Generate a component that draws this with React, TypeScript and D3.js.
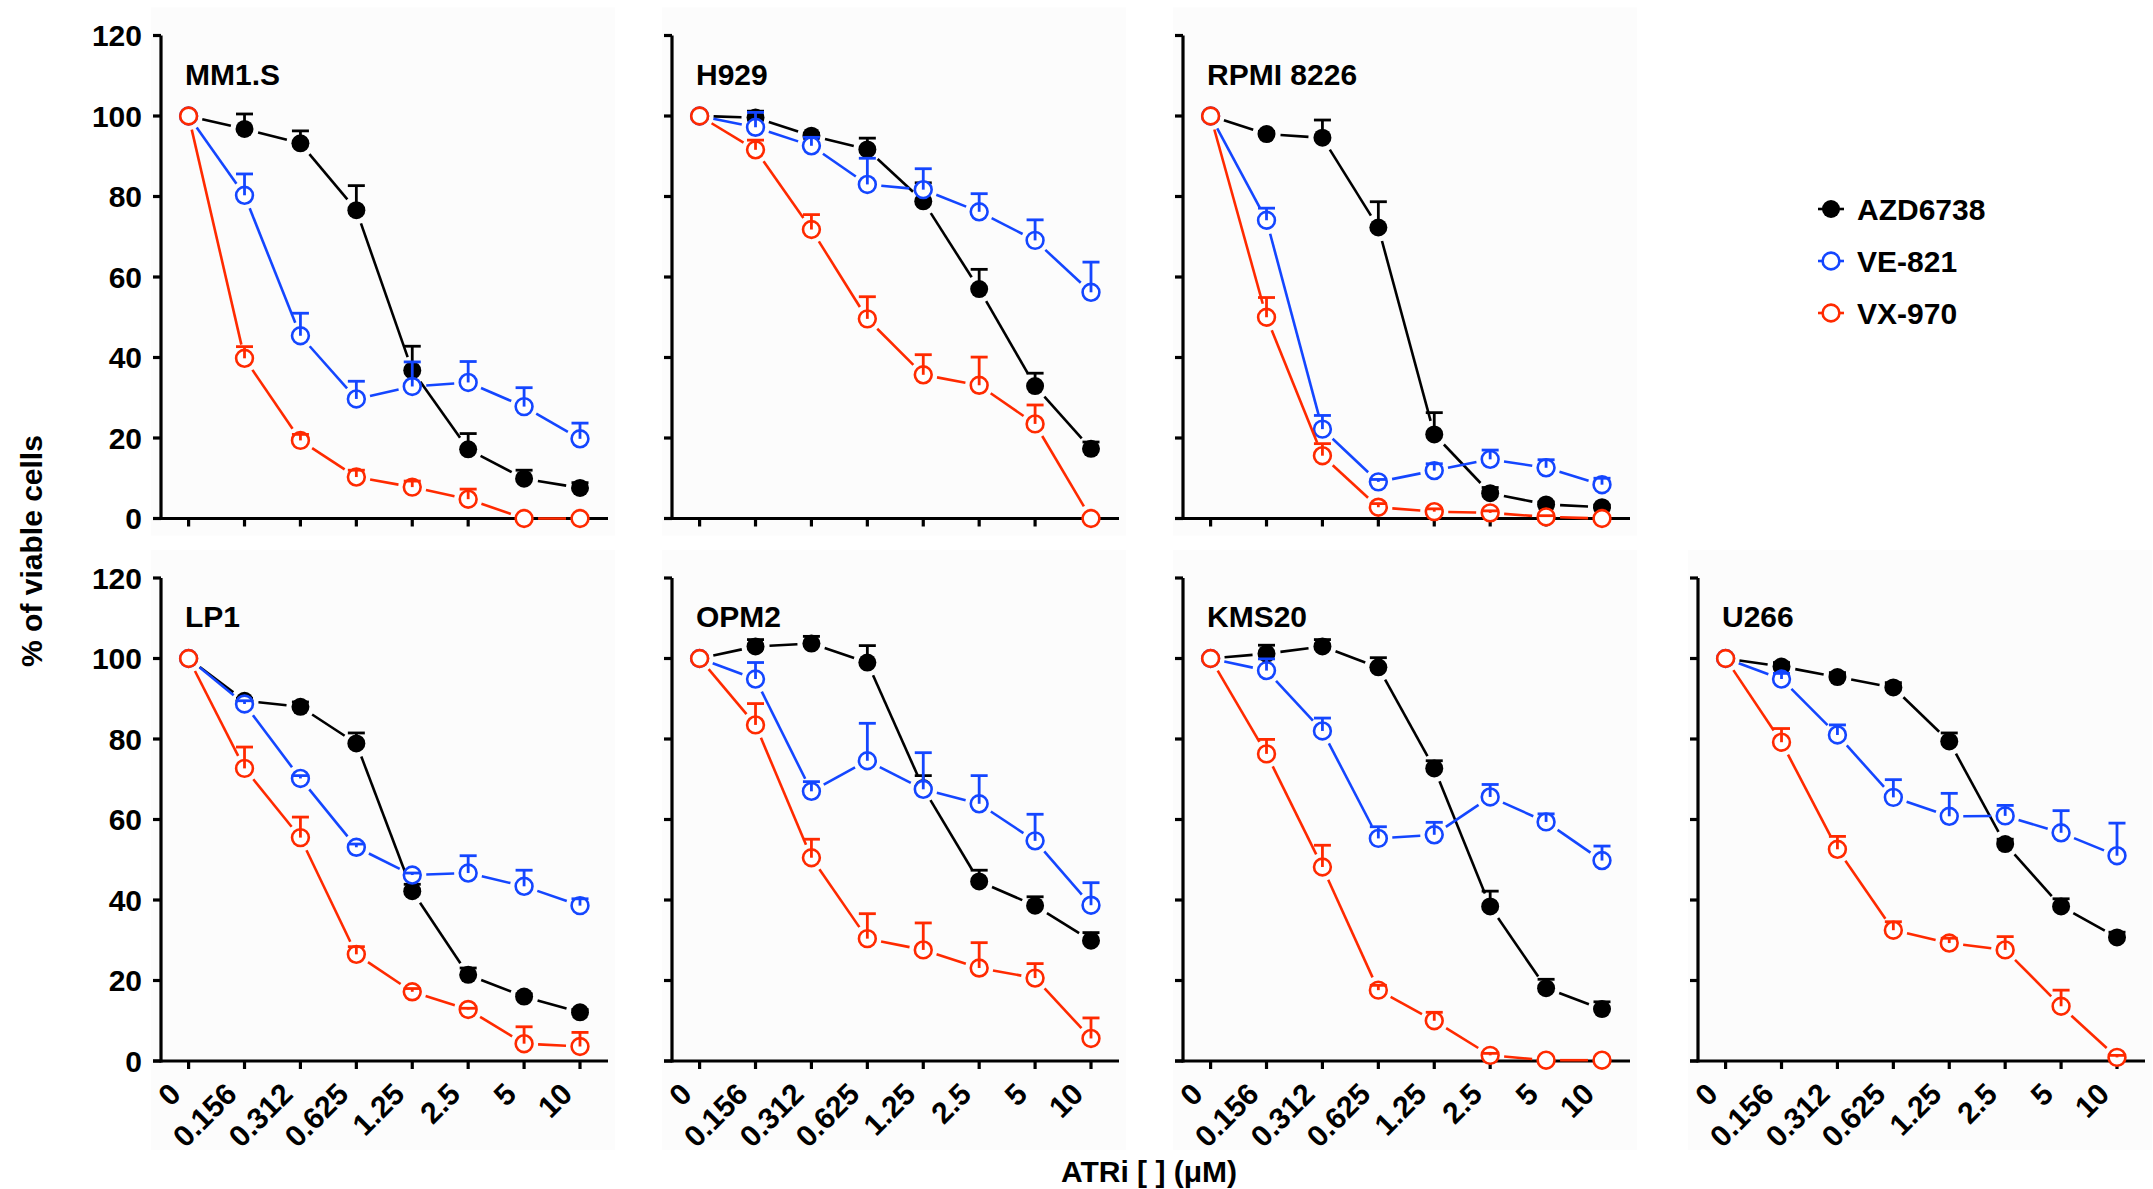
import React from "react";
import * as d3 from "d3";

// doses on the x axis (µM)
const doses = ["0", "0.156", "0.312", "0.625", "1.25", "2.5", "5", "10"];
const cellLines = ["MM1.S", "H929", "RPMI 8226", "LP1", "OPM2", "KMS20", "U266"];
const drugs = ["AZD6738", "VE-821", "VX-970"];
const yTicks = [0, 20, 40, 60, 80, 100, 120];

// mean % viable cells, one row per cell line (same order as cellLines)
const azdMean = [
  [100, 96.8, 93.2, 76.6, 36.8, 17.2, 9.9, 7.6],
  [100, 99.6, 95.1, 91.7, 78.8, 57.0, 32.9, 17.3],
  [100, 95.5, 94.6, 72.3, 20.9, 6.3, 3.5, 2.8],
  [100, 89.5, 88.0, 78.9, 42.2, 21.4, 16.0, 12.1],
  [100, 103.0, 103.7, 99.0, 67.8, 44.6, 38.6, 29.9],
  [100, 101.2, 103.0, 97.8, 72.7, 38.4, 18.1, 12.9],
  [100, 98.0, 95.4, 92.8, 79.4, 53.9, 38.4, 30.7],
];
const azdErr = [
  [0, 3.7, 3.1, 6.1, 6.0, 3.9, 2.1, 1.3],
  [0, 1.6, 0.6, 2.8, 4.6, 4.9, 3.2, 1.7],
  [0, 0.7, 4.4, 6.4, 5.4, 1.4, 0.6, 0.5],
  [0, 0.6, 1.2, 2.6, 1.7, 1.7, 0.7, 0.7],
  [0, 1.7, 1.8, 4.2, 3.1, 2.8, 2.2, 2.0],
  [0, 2.1, 1.7, 2.4, 1.9, 3.8, 2.2, 1.8],
  [0, 1.0, 1.1, 1.2, 2.1, 1.2, 1.9, 1.3],
];
const veMean = [
  [100, 80.3, 45.4, 29.7, 32.8, 33.8, 27.8, 19.8],
  [100, 97.2, 92.6, 83.0, 81.7, 76.2, 69.1, 56.2],
  [100, 74.1, 22.2, 9.1, 11.9, 14.7, 12.6, 8.4],
  [100, 88.7, 70.2, 53.1, 46.2, 46.7, 43.4, 38.6],
  [100, 94.9, 67.0, 74.6, 67.5, 63.9, 54.7, 38.7],
  [100, 97.0, 82.0, 55.3, 56.2, 65.6, 59.4, 49.8],
  [100, 94.9, 81.0, 65.5, 60.8, 60.9, 56.7, 51.0],
];
const veErr = [
  [0, 5.3, 5.6, 4.4, 6.1, 5.2, 4.7, 3.9],
  [0, 3.7, 2.1, 6.5, 5.2, 4.5, 5.1, 7.5],
  [0, 3.0, 3.4, 0.6, 1.7, 2.3, 2.0, 1.6],
  [0, 0.8, 0.7, 0.8, 0.5, 4.3, 4.0, 1.7],
  [0, 4.1, 2.4, 9.3, 9.1, 7.0, 6.6, 5.6],
  [0, 2.9, 3.2, 2.9, 3.1, 3.1, 2.0, 3.6],
  [0, 1.4, 2.5, 4.4, 5.7, 2.6, 5.5, 8.1],
];
const vxMean = [
  [100, 39.8, 19.4, 10.3, 7.8, 4.8, 0, 0],
  [100, 91.6, 71.8, 49.6, 35.7, 33.1, 23.5, 0],
  [100, 50.0, 15.6, 2.8, 1.7, 1.4, 0.4, 0],
  [100, 72.7, 55.5, 26.5, 17.2, 12.8, 4.3, 3.6],
  [100, 83.5, 50.5, 30.4, 27.6, 23.1, 20.6, 5.6],
  [100, 76.3, 48.2, 17.6, 10.0, 1.4, 0.2, 0.2],
  [100, 79.2, 52.6, 32.5, 29.3, 27.6, 13.6, 0.9],
];
const vxErr = [
  [0, 2.9, 1.5, 1.7, 1.5, 2.5, 0, 0],
  [0, 2.4, 3.7, 5.5, 5.0, 7.0, 4.7, 0],
  [0, 4.9, 3.0, 0.9, 0.7, 0.5, 0.3, 0],
  [0, 5.3, 5.1, 1.9, 0.8, 0.3, 4.2, 3.5],
  [0, 5.3, 4.6, 6.2, 6.7, 6.3, 3.6, 5.1],
  [0, 3.6, 5.4, 1.2, 2.1, 0.5, 0, 0],
  [0, 3.4, 3.2, 2.1, 1.2, 3.3, 4.0, 0.5],
];

const W = 2153;
const H = 1189;
const FONT = "'Liberation Sans', Arial, Helvetica, sans-serif";
const colors = ["#000000", "#1446ff", "#ff2a00"];
const axisX = [161, 672, 1183, 1698];
const rowY0 = [518.5, 1061];
const plotH = 483;
const R = 8.4;
const GAP = 14;

function Series({ means, errs, x, y, color, filled }) {
  const pts = doses.map((d, i) => [x(d), y(means[i]), y(means[i] + errs[i])]);
  const segs = d3.pairs(pts).map(([a, b], i) => {
    const dx = b[0] - a[0];
    const dy = b[1] - a[1];
    const len = Math.hypot(dx, dy);
    if (len < GAP * 2) return null;
    const ux = dx / len;
    const uy = dy / len;
    return (
      <line
        key={"s" + i}
        x1={a[0] + ux * GAP}
        y1={a[1] + uy * GAP}
        x2={b[0] - ux * GAP}
        y2={b[1] - uy * GAP}
        stroke={color}
        strokeWidth={2.6}
      />
    );
  });
  return (
    <g>
      {segs}
      {pts.map((p, i) => (
        <circle
          key={"c" + i}
          cx={p[0]}
          cy={p[1]}
          r={filled ? R + 0.6 : R}
          fill={filled ? color : "#fff"}
          stroke={color}
          strokeWidth={filled ? 0 : 2.6}
        />
      ))}
      {pts.map((p, i) =>
        errs[i] > 0 ? (
          <g key={"e" + i} stroke={color} strokeWidth={2.8}>
            <line x1={p[0]} x2={p[0]} y1={p[1]} y2={p[2]} />
            <line x1={p[0] - 8.5} x2={p[0] + 8.5} y1={p[2]} y2={p[2]} />
          </g>
        ) : null
      )}
    </g>
  );
}

function Panel({ idx }) {
  const row = idx < 3 ? 0 : 1;
  const col = idx < 3 ? idx : idx - 3;
  const ax = axisX[col];
  const y0 = rowY0[row];
  const y = d3.scaleLinear().domain([0, 120]).range([y0, y0 - plotH]);
  const x = d3.scalePoint().domain(doses).range([ax + 27.6, ax + 419]);
  const sets = [
    [azdMean, azdErr],
    [veMean, veErr],
    [vxMean, vxErr],
  ];
  return (
    <g>
      <rect x={ax - 10} y={y0 - 511} width={464} height={row === 0 ? 528 : 600} fill="#fcfcfc" />
      {/* y axis */}
      <line x1={ax} x2={ax} y1={y(120)} y2={y(0) + 1.5} stroke="#000" strokeWidth={3.2} />
      {yTicks.map((t) => (
        <g key={t}>
          <line x1={ax - 8} x2={ax} y1={y(t)} y2={y(t)} stroke="#000" strokeWidth={3.2} />
          {col === 0 ? (
            <text
              x={ax - 19}
              y={y(t)}
              dy="0.36em"
              textAnchor="end"
              fontSize={30}
              fontWeight="bold"
              fontFamily={FONT}
            >
              {t}
            </text>
          ) : null}
        </g>
      ))}
      {/* x axis */}
      <line x1={ax - 8} x2={ax + 447} y1={y0} y2={y0} stroke="#000" strokeWidth={3.2} />
      {doses.map((d) => (
        <g key={d}>
          <line x1={x(d)} x2={x(d)} y1={y0} y2={y0 + 8} stroke="#000" strokeWidth={3.2} />
          {row === 1 ? (
            <text
              transform={`translate(${x(d) - 6},${y0 + 35}) rotate(-45)`}
              textAnchor="end"
              fontSize={30}
              fontWeight="bold"
              fontFamily={FONT}
            >
              {d}
            </text>
          ) : null}
        </g>
      ))}
      <text x={ax + 24} y={y(120) + 49} fontSize={30} fontWeight="bold" fontFamily={FONT}>
        {cellLines[idx]}
      </text>
      {sets.map(([m, e], k) => (
        <Series
          key={k}
          means={m[idx]}
          errs={e[idx]}
          x={x}
          y={y}
          color={colors[k]}
          filled={k === 0}
        />
      ))}
    </g>
  );
}

export default function App() {
  const legendY = d3.scalePoint().domain(drugs).range([209, 313]);
  return (
    <svg
      width={W}
      height={H}
      style={{ position: "absolute", left: 0, top: 0, background: "#fff" }}
    >
      {cellLines.map((c, i) => (
        <Panel key={c} idx={i} />
      ))}
      {drugs.map((d, k) => (
        <g key={d}>
          <line
            x1={1818}
            x2={1844}
            y1={legendY(d)}
            y2={legendY(d)}
            stroke={colors[k]}
            strokeWidth={2.6}
          />
          <circle
            cx={1831}
            cy={legendY(d)}
            r={k === 0 ? 9 : 8.4}
            fill={k === 0 ? colors[k] : "#fff"}
            stroke={colors[k]}
            strokeWidth={k === 0 ? 0 : 2.6}
          />
          <text
            x={1857}
            y={legendY(d)}
            dy="0.36em"
            fontSize={30}
            fontWeight="bold"
            fontFamily={FONT}
          >
            {d}
          </text>
        </g>
      ))}
      <text
        transform={`translate(42,551) rotate(-90)`}
        textAnchor="middle"
        fontSize={30}
        fontWeight="bold"
        fontFamily={FONT}
      >
        % of viable cells
      </text>
      <text
        x={1149}
        y={1182}
        textAnchor="middle"
        fontSize={30}
        fontWeight="bold"
        fontFamily={FONT}
      >
        ATRi [ ] (μM)
      </text>
    </svg>
  );
}
